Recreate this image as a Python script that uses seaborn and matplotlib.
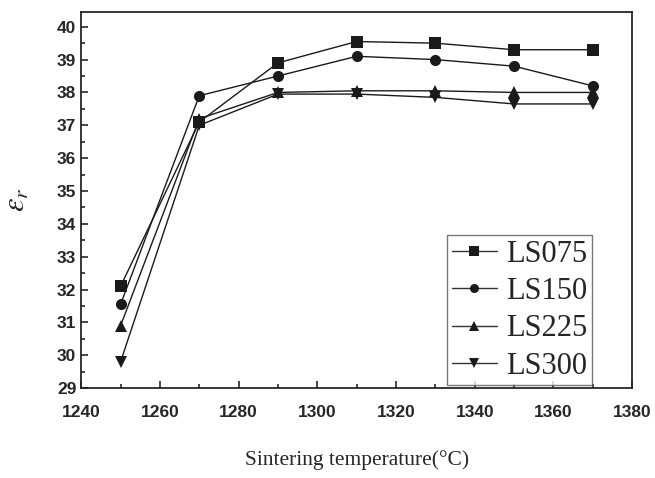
import pandas as pd
import seaborn as sns
import matplotlib.pyplot as plt
from matplotlib.ticker import MultipleLocator

temps = [1250, 1270, 1290, 1310, 1330, 1350, 1370]
ls075 = [32.1, 37.1, 38.9, 39.55, 39.5, 39.3, 39.3]
ls150 = [31.55, 37.9, 38.5, 39.1, 39.0, 38.8, 38.2]
ls225 = [30.9, 37.2, 38.0, 38.05, 38.05, 38.0, 38.0]
ls300 = [29.8, 37.0, 37.95, 37.95, 37.85, 37.65, 37.65]
names = ['LS075', 'LS150', 'LS225', 'LS300']

df = pd.DataFrame({'temp': temps * 4,
                   'eps': ls075 + ls150 + ls225 + ls300,
                   'sample': [n for n in names for _ in temps]})

sns.set_style('ticks')
plt.rcParams['font.family'] = ['Liberation Sans', 'DejaVu Sans']
plt.rcParams['mathtext.fontset'] = 'stix'

fig = plt.figure(figsize=(6.55, 4.78), dpi=100)
ax = fig.add_axes([0.124, 0.188, 0.841, 0.787])

sns.lineplot(data=df, x='temp', y='eps', hue='sample', style='sample',
             palette=['#1a1a1a'] * 4, markers=['s', 'o', '^', 'v'],
             dashes=False, markersize=8, linewidth=1, markeredgewidth=0,
             ax=ax)

ax.set_xlim(1240, 1380)
ax.set_ylim(29, 40.45)
ax.xaxis.set_major_locator(MultipleLocator(20))
ax.xaxis.set_minor_locator(MultipleLocator(10))
ax.yaxis.set_major_locator(MultipleLocator(1))
ax.yaxis.set_minor_locator(MultipleLocator(0.5))
ax.tick_params(which='both', direction='in', width=1.2)
ax.tick_params(which='major', length=5, labelsize=12.5)
ax.tick_params(which='minor', length=3)
ax.tick_params(axis='x', pad=12)
for lab in ax.get_xticklabels() + ax.get_yticklabels():
    lab.set_fontweight('bold')
for s in ax.spines.values():
    s.set_linewidth(1.3)

ax.set_xlabel('Sintering temperature(°C)', family='Liberation Serif',
              fontsize=15.5, labelpad=22)
ax.set_ylabel(r'$\varepsilon_r$', fontsize=22, labelpad=18)

handles, labels = ax.get_legend_handles_labels()
leg = ax.legend(handles, labels, loc='lower right',
                prop={'family': 'Liberation Serif', 'size': 22},
                frameon=True, fancybox=False, edgecolor='#555555', handlelength=1.5,
                handletextpad=0.3, borderpad=0.15, labelspacing=0.27,
                borderaxespad=0, bbox_to_anchor=(0.928, 0.008))
leg.get_frame().set_linewidth(1.0)
for h in leg.legend_handles:
    h.set_markersize(6.5)
    h.set_color('#333333')
    h.set_markerfacecolor('#1a1a1a')

fig.savefig('out.png', dpi=100)
